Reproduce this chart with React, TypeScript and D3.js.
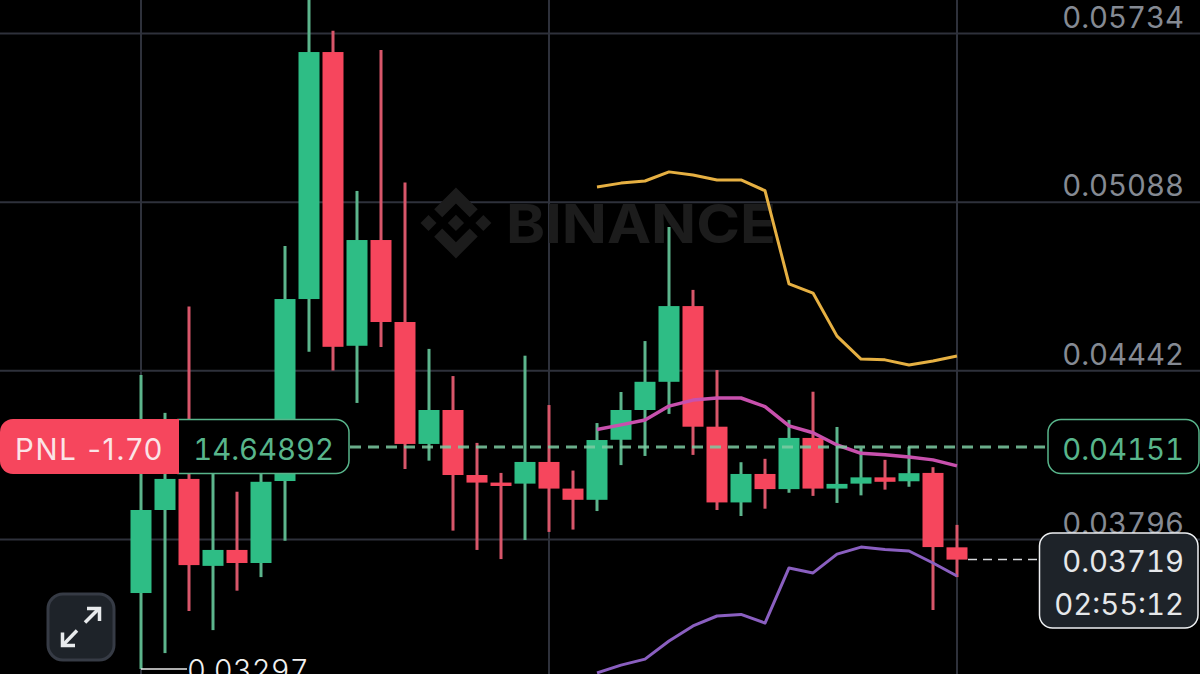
import React from "react";
import * as d3 from "d3";

const WIDTH = 1200;
const HEIGHT = 674;
const FONT = "Inter, 'Noto Sans', sans-serif";

const opens = [0.03591, 0.03909, 0.04028, 0.03695, 0.03756, 0.03706, 0.0402, 0.04717, 0.05663, 0.04538, 0.04943, 0.04629, 0.04162, 0.04292, 0.04043, 0.04014, 0.0401, 0.04093, 0.03991, 0.03948, 0.04178, 0.04292, 0.044, 0.0469, 0.04228, 0.03938, 0.04047, 0.03989, 0.04185, 0.03991, 0.0401, 0.04034, 0.04019, 0.04051, 0.03766];
const closes = [0.03909, 0.04028, 0.03698, 0.03756, 0.03706, 0.04017, 0.04717, 0.05663, 0.04534, 0.04943, 0.04629, 0.04162, 0.04292, 0.04043, 0.04014, 0.04001, 0.04093, 0.03991, 0.03948, 0.04177, 0.04292, 0.044, 0.0469, 0.04228, 0.03938, 0.04047, 0.03989, 0.04185, 0.03991, 0.04009, 0.04034, 0.04017, 0.0405, 0.03767, 0.03719];
const highs = [0.04426, 0.04281, 0.04688, 0.04177, 0.03979, 0.04215, 0.0492, 0.05882, 0.05745, 0.05131, 0.05671, 0.05163, 0.04526, 0.04422, 0.04166, 0.04051, 0.045, 0.04311, 0.0406, 0.04242, 0.04361, 0.04556, 0.04993, 0.04752, 0.04445, 0.04092, 0.04105, 0.04254, 0.04362, 0.04227, 0.04146, 0.04101, 0.04151, 0.04073, 0.03852];
const lows = [0.033, 0.03361, 0.03522, 0.03449, 0.036, 0.03652, 0.03791, 0.04515, 0.04443, 0.04319, 0.04533, 0.04066, 0.04098, 0.0383, 0.03756, 0.03721, 0.03794, 0.03825, 0.03834, 0.03905, 0.04081, 0.04116, 0.04277, 0.0412, 0.03909, 0.03886, 0.03914, 0.03975, 0.03963, 0.03936, 0.03965, 0.03987, 0.03998, 0.03526, 0.03652];

const bandStart = 19;
const upperBand = [0.05146, 0.05161, 0.05169, 0.05204, 0.05192, 0.05173, 0.05173, 0.05132, 0.04775, 0.0474, 0.04575, 0.04487, 0.04484, 0.04464, 0.0448, 0.04499];
const middleBand = [0.04217, 0.04235, 0.04254, 0.04307, 0.0433, 0.04338, 0.04338, 0.04305, 0.04231, 0.04205, 0.04158, 0.04126, 0.04121, 0.04112, 0.04101, 0.04078];
const lowerBand = [0.03285, 0.03315, 0.03338, 0.03407, 0.03465, 0.03503, 0.03509, 0.03476, 0.03687, 0.03668, 0.0374, 0.03767, 0.03758, 0.03752, 0.03706, 0.03656];

const priceTicks = [0.05734, 0.05088, 0.04442, 0.03796];
const timeTicks = [0, 17, 34];
const entryPrice = 0.04151;
const lastPrice = 0.03719;
const lowPrice = 0.033;
const lowLabel = "0.03297";
const pnlLabel = "PNL -1.70";
const sizeLabel = "14.64892";
const countdown = "02:55:12";

const x = d3.scaleLinear().domain([0, 34]).range([141, 957]);
const y = d3.scaleLinear().domain([0.05734, 0.03796]).range([33.5, 539.5]);

const UP = "#2ebd85";
const DOWN = "#f6465d";
const UP_WICK = "#5cb58c";
const DOWN_WICK = "#d8566a";
const GRID = "#2e313b";
const TICK_TEXT = "#858a93";
const LABEL_GREEN = "#58b58b";
const FS = 29.3;

const bandLine = d3
  .line<number>()
  .x((_, i) => x(i + bandStart))
  .y((v) => y(v));

const logoPaths = [
  "M38.73 53.2L63.31 28.63L87.9 53.21L102.2 38.91L63.31 0L24.43 38.88Z",
  "M0 63.31L14.3 49.01L28.6 63.31L14.3 77.61Z",
  "M38.73 73.41L63.31 97.99L87.9 73.4L102.2 87.69L63.31 126.61L24.42 87.73Z",
  "M98 63.31L112.3 49L126.6 63.3L112.3 77.6Z",
  "M77.83 63.3L63.31 48.78L48.78 63.31L63.31 77.83Z",
];

export default function App() {
  const entryY = Math.round(y(entryPrice));
  const lastY = y(lastPrice);
  const lowY = y(lowPrice);
  const textStyle = { fontFeatureSettings: "'tnum'", fontVariantNumeric: "tabular-nums" };
  return (
    <svg
      width={WIDTH}
      height={HEIGHT}
      viewBox={`0 0 ${WIDTH} ${HEIGHT}`}
      style={{ position: "fixed", left: 0, top: 0, background: "#000", fontFamily: FONT }}
    >
      <rect width={WIDTH} height={HEIGHT} fill="#000" />

      {priceTicks.map((t) => (
        <line key={t} x1={0} x2={WIDTH} y1={y(t)} y2={y(t)} stroke={GRID} strokeWidth={2} />
      ))}
      {timeTicks.map((t) => (
        <line key={t} x1={x(t)} x2={x(t)} y1={0} y2={HEIGHT} stroke={GRID} strokeWidth={2} />
      ))}

      <g fill="#1c1c1c">
        <g transform="translate(420.5 187.5) scale(0.56)">
          {logoPaths.map((d) => (
            <path key={d} d={d} />
          ))}
        </g>
        <text
          x={506}
          y={243}
          fontSize={54}
          fontWeight={700}
          textLength={270}
          lengthAdjust="spacingAndGlyphs"
        >
          BINANCE
        </text>
      </g>

      {opens.map((o, i) => {
        const c = closes[i];
        const isUp = c >= o;
        const top = y(Math.max(o, c));
        const bottom = y(Math.min(o, c));
        return (
          <g key={i}>
            <line
              x1={x(i)}
              x2={x(i)}
              y1={y(highs[i])}
              y2={y(lows[i])}
              stroke={isUp ? UP_WICK : DOWN_WICK}
              strokeWidth={3}
            />
            <rect
              x={x(i) - 10.5}
              y={top}
              width={21}
              height={Math.max(bottom - top, 1)}
              fill={isUp ? UP : DOWN}
            />
          </g>
        );
      })}

      <path d={bandLine(upperBand) ?? ""} fill="none" stroke="#e6b042" strokeWidth={3} strokeLinejoin="round" />
      <path d={bandLine(middleBand) ?? ""} fill="none" stroke="#c850ad" strokeWidth={3.5} strokeLinejoin="round" />
      <path d={bandLine(lowerBand) ?? ""} fill="none" stroke="#8a5fc0" strokeWidth={3} strokeLinejoin="round" />

      <line
        x1={350}
        x2={1048}
        y1={entryY}
        y2={entryY}
        stroke="#7ccba2"
        strokeOpacity={0.85}
        strokeWidth={3}
        strokeDasharray="11 7"
      />
      <line
        x1={968}
        x2={1040}
        y1={lastY}
        y2={lastY}
        stroke="#d5d7da"
        strokeWidth={1.5}
        strokeDasharray="9 6"
      />

      <polyline
        points={`${x(0)},${lowY} 187,${lowY}`}
        fill="none"
        stroke="#e8e8e8"
        strokeWidth={1.5}
      />
      <text x={187} y={681} fontSize={FS} fontWeight={300} fill="#f0f0f0" style={textStyle}>
        {lowLabel}
      </text>

      {priceTicks.map((t) => (
        <text key={t} x={1184} y={y(t) - 6} textAnchor="end" fontSize={FS} fill={TICK_TEXT} style={textStyle}>
          {d3.format(".5f")(t)}
        </text>
      ))}

      <path
        d="M178 419.5H336a13 13 0 0 1 13 13V460.500a13 13 0 0 1-13 13H178Z"
        fill="#000"
        stroke={LABEL_GREEN}
        strokeWidth={1.5}
      />
      <path d="M13 419H179V474H13a13 13 0 0 1-13-13V432a13 13 0 0 1 13-13Z" fill={DOWN} />
      <text x={15} y={460} fontSize={FS} fill="#fbe4e7" style={{ letterSpacing: 1.7 }}>
        {pnlLabel}
      </text>
      <text x={334} y={460} textAnchor="end" fontSize={FS} fill={LABEL_GREEN} style={textStyle}>
        {sizeLabel}
      </text>

      <rect x={1048} y={419.5} width={151} height={54} rx={13} fill="#000" stroke={LABEL_GREEN} strokeWidth={1.5} />
      <text x={1184} y={460} textAnchor="end" fontSize={FS} fill={LABEL_GREEN} style={textStyle}>
        {d3.format(".5f")(entryPrice)}
      </text>

      <rect x={1039.5} y={533} width={158.5} height={95} rx={13} fill="#1e2329" stroke="#eef0f2" strokeWidth={1.5} />
      <text x={1184} y={572} textAnchor="end" fontSize={FS} fill="#e6e8ea" style={textStyle}>
        {d3.format(".5f")(lastPrice)}
      </text>
      <text x={1184} y={615} textAnchor="end" fontSize={FS} fill="#e6e8ea" style={textStyle}>
        {countdown}
      </text>

      <rect x={48} y={594} width={66} height={66} rx={15} fill="#1e2329" stroke="#363b45" strokeWidth={3} />
      <g stroke="#e8eaec" strokeWidth={3.5} fill="none">
        <path d="M85 622.500L99 608.500" />
        <path d="M87 608.500H99.500V621" />
        <path d="M77 630.500L63 645" />
        <path d="M62.500 632.500V645.500H75" />
      </g>
    </svg>
  );
}
